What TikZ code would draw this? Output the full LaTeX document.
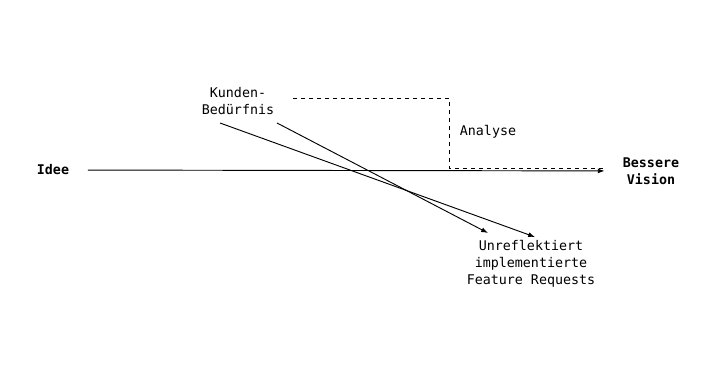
\documentclass[tikz,border=0pt]{standalone}
\usepackage{fontspec}
\setmonofont{DejaVu Sans Mono}
\usetikzlibrary{arrows.meta,positioning}

\begin{document}
\begin{tikzpicture}[x=0.75pt,y=-0.75pt,
  lbl/.style={font=\ttfamily\fontsize{10}{12.8}\selectfont,align=center,inner sep=0pt},
  bold/.style={lbl,font=\ttfamily\bfseries\fontsize{10}{12.8}\selectfont},
  arr/.style={-{Latex[length=1.8mm,width=1.3mm]},line width=0.7pt},
  dashline/.style={dashed,line width=0.7pt}]
\useasboundingbox (0,0) rectangle (715,378);
\node[bold] (idee) at (53,170) {Idee};
\node[bold] (vision) at (651,171) {Bessere\\Vision};
\node[lbl] (kunden) at (238,101) {Kunden-\\Bedürfnis};
\node[lbl] (analyse) at (488,132) {Analyse};
\node[lbl] (requests) at (531,264) {Unreflektiert\\implementierte\\Feature Requests};
% start and end points of the lines
\coordinate (k1) at (220,123);
\coordinate (k2) at (277,123);
\coordinate (u1) at (535,237);
\coordinate (u2) at (488,233);
\coordinate (d0) at (293,98);
\coordinate (d1) at (449,168);
\coordinate (d2) at (603,168);
\draw[arr,shorten <=14pt,shorten >=13.5pt] (idee) -- (vision);
\draw[dashline] (d0) -| (d1) -- (d2);
\draw[arr] (k1) -- (u1);
\draw[arr] (k2) -- (u2);
\end{tikzpicture}
\end{document}
